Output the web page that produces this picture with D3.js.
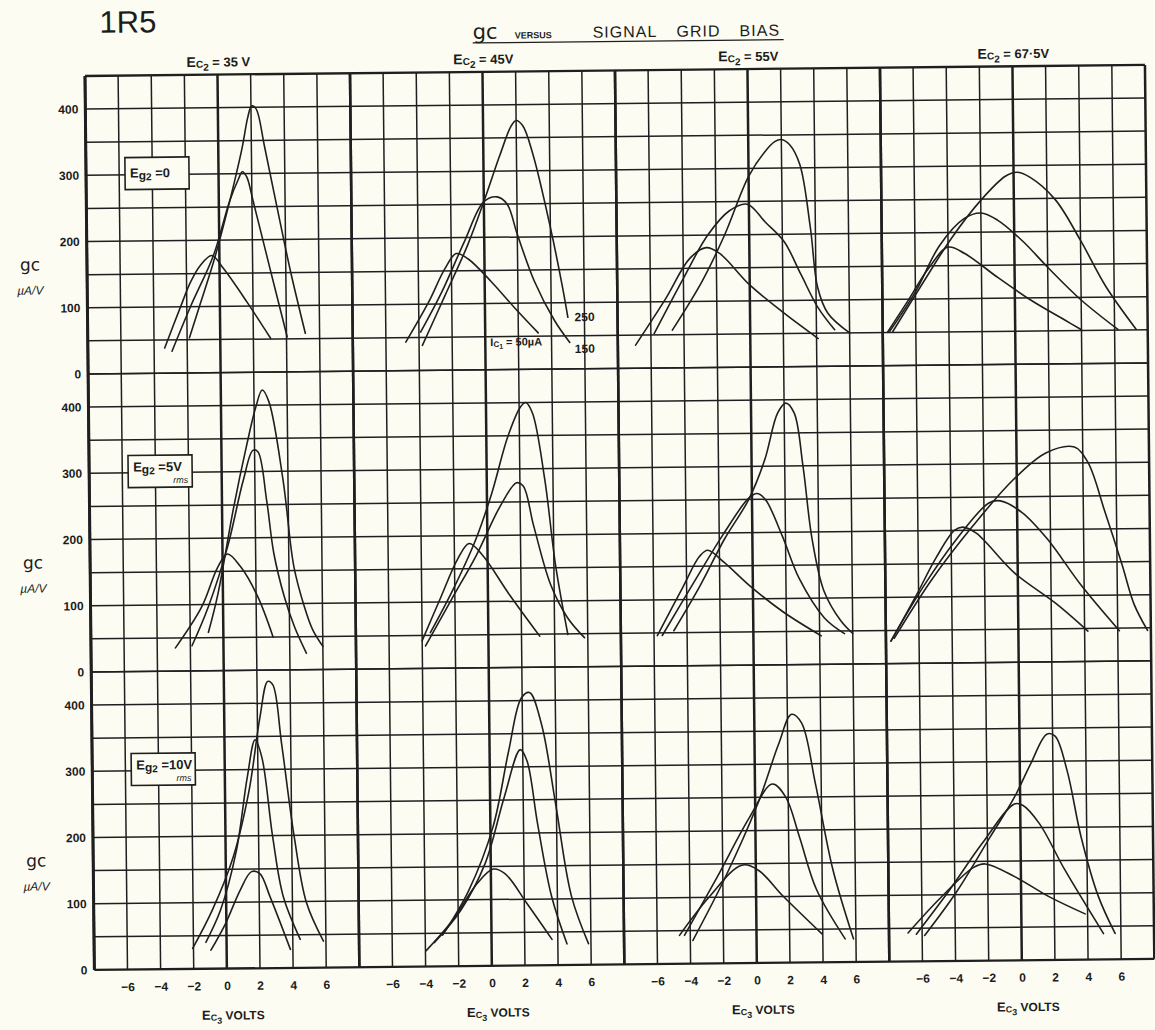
<!DOCTYPE html>
<html><head><meta charset="utf-8">
<script src="https://cdn.jsdelivr.net/npm/d3@7"></script>
<style>
body{margin:0;background:#fcfcf3;}
svg{display:block;}
text{font-family:"Liberation Sans","DejaVu Sans",sans-serif;fill:#1c1c1c;}
.b{font-weight:bold;}
</style>
</head><body>
<svg id="c" width="1155" height="1030"></svg>
<script>
// ---------- labels ----------
const tubeName = "1R5";
const ec2Values = ["35 V", "45V", "55V", "67·5V"];
const eg2Values = ["0", "5V", "10V"];
const eg2Rms = ["", "rms", "rms"];
const xTicks = [-6, -4, -2, 0, 2, 4, 6];
const yTicks = [0, 100, 200, 300, 400];
const ic1Labels = ["250", "150", "Ic1 = 50µA"];

// ---------- data: [Ec3 volts, gc µA/V] ; each panel = [Ic1 50µA, 150µA, 250µA] ----------
// Eg2 = 0
const eg0_ec35 = [
  [[-3.36,38],[-2.36,101],[-1.76,137],[-1.16,162],[-0.46,177],[0.24,157],[1.64,106],[3.04,51]],
  [[-2.92,33],[-1.76,101],[-0.36,177],[0.64,258],[1.2,292],[1.44,303],[1.7,295],[2.04,262],[3.04,157],[4.04,53]],
  [[-1.86,53],[-1.16,106],[-0.36,167],[0.44,238],[1.44,339],[1.8,385],[2.04,402],[2.3,398],[2.8,340],[3.5,250],[4.3,150],[5.14,58]]
];
const eg0_ec45 = [
  [[-4.8,43],[-3.4,103],[-2.4,153],[-1.7,176],[-1.0,168],[0.4,133],[1.8,93],[3.2,55]],
  [[-3.9,58],[-2.6,118],[-1.2,194],[0,254],[0.8,261],[1.4,250],[2.0,204],[3.0,133],[4.2,73],[5.1,40]],
  [[-3.8,38],[-2.4,113],[-1.0,189],[0,254],[1.0,324],[1.7,368],[2.0,376],[2.4,368],[3.0,324],[4.0,214],[4.7,123],[5.0,78]]
];
const eg0_ec55 = [
  [[-6.93,35],[-5.1,104],[-3.6,165],[-2.6,181],[-1.8,172],[0,124],[2,82],[4.1,42]],
  [[-5.8,52],[-4,135],[-2.5,200],[-1.2,236],[-0.1,246],[1,218],[2.1,189],[3.1,139],[4.1,89],[5.1,55]],
  [[-4.7,57],[-2.9,129],[-1.5,199],[0,288],[1,325],[1.6,340],[2,343],[2.5,335],[3.1,305],[3.7,209],[4.1,119],[4.7,80],[6,50]]
];
const eg0_ec675 = [
  [[-7.7,51],[-6.5,96],[-5.2,146],[-4,178],[-3,168],[-1,131],[1,96],[3,66],[4.0,51]],
  [[-7.6,51],[-6,111],[-4.5,181],[-3,221],[-2,229],[-1,218],[0.5,186],[2,146],[4,96],[6.2,51]],
  [[-7.4,51],[-5.5,126],[-3.8,191],[-2,248],[-0.5,284],[0.2,290],[1,282],[2.5,248],[4,186],[5.5,116],[7.3,51]]
];
// Eg2 = 5V rms
const eg5_ec35 = [
  [[-2.9,35],[-1.3,96],[-0.3,156],[0.3,176],[1.1,156],[2.1,111],[3.0,50]],
  [[-1.9,38],[-0.9,96],[0.3,186],[1.3,287],[1.9,332],[2.2,330],[2.7,256],[3.1,176],[3.7,111],[4.3,65],[5.0,25]],
  [[-0.9,58],[-0.3,116],[0.7,246],[1.5,337],[2.1,397],[2.5,423],[2.9,405],[3.7,287],[4.3,156],[4.9,96],[5.4,60],[6.0,35]]
];
const eg5_ec45 = [
  [[-4.0,42],[-2.8,110],[-1.8,165],[-1.1,188],[-0.3,170],[1.3,110],[3.1,47]],
  [[-3.8,34],[-2.2,104],[-0.7,169],[0.8,244],[1.8,279],[2.2,274],[2.8,214],[3.8,124],[4.8,74],[5.8,44]],
  [[-3.5,54],[-2.2,114],[-0.7,194],[0.3,264],[1.3,349],[2.1,394],[2.4,400],[2.8,384],[3.5,284],[4.1,154],[4.8,49]]
];
const eg5_ec55 = [
  [[-5.8,46],[-4.2,120],[-3.2,165],[-2.7,174],[-1.7,155],[-0.2,120],[1.8,80],[4.1,43]],
  [[-5.5,46],[-3.7,120],[-1.7,200],[-0.2,252],[0.3,259],[0.8,250],[1.8,195],[2.8,130],[4.3,70],[5.5,46]],
  [[-4.8,53],[-3.2,120],[-1.7,190],[-0.2,250],[0.8,310],[1.6,380],[2.1,395],[2.6,380],[3.1,300],[3.6,190],[4.3,110],[5.3,65],[6.0,46]]
];
const eg5_ec675 = [
  [[-7.7,34],[-6.2,100],[-4.9,160],[-3.8,200],[-3.3,205],[-2.5,196],[-0.2,135],[2.3,88],[4.2,46]],
  [[-7.7,34],[-5.7,116],[-3.7,186],[-1.7,241],[-1.0,244],[0.3,226],[1.8,186],[3.8,116],[6.1,46]],
  [[-7.5,38],[-5.2,126],[-2.7,206],[-0.2,276],[1.8,316],[3.5,324],[4.3,301],[5.3,226],[6.3,146],[7.0,86],[7.8,46]]
];
// Eg2 = 10V rms
const eg10_ec35 = [
  [[-0.95,28],[-0.05,68],[0.85,118],[1.55,146],[2.05,143],[2.65,108],[3.85,28]],
  [[-1.25,40],[-0.35,88],[0.65,178],[1.35,288],[1.85,345],[2.25,318],[2.85,198],[3.45,108],[4.45,43]],
  [[-2.05,31],[-0.85,88],[0.45,168],[1.45,268],[2.15,378],[2.65,433],[2.95,428],[3.45,338],[4.15,198],[4.85,98],[5.85,40]]
];
const eg10_ec45 = [
  [[-3.95,24],[-2.35,69],[-0.85,124],[0.15,146],[0.85,139],[2.15,94],[3.65,39]],
  [[-3.45,36],[-1.85,84],[-0.35,154],[0.85,254],[1.85,326],[2.25,309],[2.85,214],[3.65,104],[4.55,32]],
  [[-2.95,47],[-1.35,114],[0.15,209],[1.15,324],[1.95,404],[2.45,412],[3.15,364],[3.95,244],[4.85,104],[5.85,32]]
];
const eg10_ec55 = [
  [[-4.65,43],[-2.85,100],[-0.85,148],[0.15,140],[1.65,100],[3.95,43]],
  [[-4.35,43],[-2.35,130],[-0.35,220],[1.05,270],[1.85,250],[2.65,190],[3.65,110],[5.35,35]],
  [[-3.85,35],[-1.85,130],[0.15,240],[1.45,330],[2.25,375],[2.85,362],[3.65,270],[4.65,140],[5.85,35]]
];
const eg10_ec675 = [
  [[-6.85,43],[-4.85,96],[-2.85,141],[-2.15,146],[-0.35,126],[1.65,96],[3.85,69]],
  [[-6.35,41],[-4.35,106],[-2.35,176],[-0.35,236],[0.15,234],[1.15,206],[2.65,136],[4.95,39]],
  [[-5.85,39],[-3.85,106],[-1.85,186],[-0.35,246],[0.65,296],[1.65,341],[2.15,338],[2.85,286],[3.65,186],[4.65,96],[5.65,39]]
];
const panelData = [
  [eg0_ec35, eg0_ec45, eg0_ec55, eg0_ec675],
  [eg5_ec35, eg5_ec45, eg5_ec55, eg5_ec675],
  [eg10_ec35, eg10_ec45, eg10_ec55, eg10_ec675]
];

// ---------- layout ----------
const L = 85, T = 76, PW = 265, RH = 298, W = 4 * PW, H = 3 * RH;
const ink = "#1f1f1f";
const svg = d3.select("#c");
svg.append("rect").attr("width", 1155).attr("height", 1030).attr("fill", "#fcfcf3");
const g = svg.append("g").attr("transform", `rotate(-0.6 ${L} ${T})`);

const xs = d3.range(4).map(p => d3.scaleLinear().domain([-8, 8]).range([L + p * PW, L + (p + 1) * PW]));
const ys = d3.range(3).map(r => d3.scaleLinear().domain([0, 450]).range([T + (r + 1) * RH, T + r * RH]));

// grid
const grid = g.append("g");
xs.forEach((x, p) => {
  d3.range(-8, 9, 2).forEach(v => {
    const thick = (v === 0 || v === -8 || v === 8);
    grid.append("line").attr("x1", x(v)).attr("x2", x(v)).attr("y1", T).attr("y2", T + H)
      .attr("stroke", ink).attr("stroke-width", thick ? 2.5 : 1.5);
  });
});
ys.forEach((y, r) => {
  d3.range(0, 451, 50).forEach(v => {
    const edge = (r === 0 && v === 450) || (r === 2 && v === 0);
    grid.append("line").attr("x1", L).attr("x2", L + W).attr("y1", y(v)).attr("y2", y(v))
      .attr("stroke", ink).attr("stroke-width", edge ? 2.3 : 1.5);
  });
});
grid.append("line").attr("x1", L).attr("x2", L).attr("y1", T).attr("y2", T + H).attr("stroke", ink).attr("stroke-width", 3);

// y axes (labels only)
ys.forEach((y, r) => {
  const ax = g.append("g").attr("transform", `translate(${L - 7},0)`)
    .call(d3.axisLeft(y).tickValues(yTicks).tickSize(0).tickPadding(0).tickFormat(d3.format("d")));
  ax.select(".domain").remove();
  ax.selectAll("text").attr("class", "b").style("font-size", "12px").style("font-family", "'Liberation Sans',sans-serif").attr("fill", ink);
  const yz = y(0);
  g.append("text").attr("x", 28).attr("y", yz - 104).attr("text-anchor", "middle")
    .style("font-size", "17px").style("font-family", "'DejaVu Sans',sans-serif").text("gc");
  g.append("text").attr("x", 28).attr("y", yz - 80).attr("text-anchor", "middle")
    .style("font-size", "12px").style("font-style", "italic").text("µA/V");
});

// x axes at bottom (labels only)
xs.forEach((x, p) => {
  const ax = g.append("g").attr("transform", `translate(0,${T + H + 13})`)
    .call(d3.axisBottom(x).tickValues(xTicks).tickSize(0).tickPadding(0).tickFormat(d => d < 0 ? "−" + Math.abs(d) : d));
  ax.select(".domain").remove();
  ax.selectAll("text").attr("class", "b").style("font-size", "12px").style("font-family", "'Liberation Sans',sans-serif").attr("fill", ink);
  const t = g.append("text").attr("x", x(0) + 6).attr("y", T + H + 51).attr("text-anchor", "middle").attr("class", "b");
  t.append("tspan").text("E").style("font-size", "13px");
  t.append("tspan").text("C").style("font-size", "9px").attr("dy", 1);
  t.append("tspan").text("3").style("font-size", "9px").attr("dy", 3);
  t.append("tspan").text(" VOLTS").style("font-size", "12px").attr("dy", -4);
});

// Ec2 headers
xs.forEach((x, p) => {
  const t = g.append("text").attr("x", x(0) + 1).attr("y", T - 8).attr("text-anchor", "middle").attr("class", "b");
  t.append("tspan").text("E").style("font-size", "14px");
  t.append("tspan").text("C").style("font-size", "10px").attr("dy", 1);
  t.append("tspan").text("2").style("font-size", "10px").attr("dy", 3);
  t.append("tspan").text(" = " + ec2Values[p]).style("font-size", "13px").attr("dy", -4);
});

// title
g.append("text").attr("x", 100).attr("y", 33).style("font-size", "31px").text(tubeName);
const tt = g.append("text").attr("x", 473).attr("y", 43);
tt.append("tspan").text("gc").style("font-size", "21px").style("font-family", "'DejaVu Sans',sans-serif");
tt.append("tspan").attr("x", 515).text("VERSUS").attr("class", "b").style("font-size", "9px");
tt.append("tspan").attr("x", 593).text("SIGNAL").style("font-size", "16px").style("letter-spacing", "1px");
tt.append("tspan").attr("x", 677).text("GRID").style("font-size", "16px").style("letter-spacing", "1px");
tt.append("tspan").attr("x", 740).text("BIAS").style("font-size", "16px").style("letter-spacing", "1px");
g.append("line").attr("x1", 473).attr("x2", 784).attr("y1", 47).attr("y2", 47).attr("stroke", ink).attr("stroke-width", 1.3);

// Eg2 boxes in first panel of each row
ys.forEach((y, r) => {
  const bx = 124, bw = 64, by = y(0) - 216, bh = 32;
  g.append("rect").attr("x", bx).attr("y", by).attr("width", bw).attr("height", bh)
    .attr("fill", "#fcfcf3").attr("stroke", ink).attr("stroke-width", 1.6);
  const t = g.append("text").attr("x", bx + 5).attr("y", by + (eg2Rms[r] ? 16 : 20)).attr("class", "b");
  t.append("tspan").text("E").style("font-size", "13px");
  t.append("tspan").text("g").style("font-size", "12px").attr("dy", 2);
  t.append("tspan").text("2").style("font-size", "10px").attr("dy", 1);
  t.append("tspan").text(" =" + eg2Values[r]).style("font-size", "13px").attr("dy", -3);
  if (eg2Rms[r]) g.append("text").attr("x", bx + bw - 4).attr("y", by + 28).attr("text-anchor", "end")
    .style("font-size", "9px").style("font-style", "italic").text(eg2Rms[r]);
});

// curves
panelData.forEach((row, r) => {
  row.forEach((curves, p) => {
    const line = d3.line().x(d => xs[p](d[0])).y(d => ys[r](d[1])).curve(d3.curveCatmullRom.alpha(0.5));
    curves.forEach(c => {
      g.append("path").attr("d", line(c)).attr("fill", "none").attr("stroke", ink)
        .attr("stroke-width", 1.6).attr("stroke-linejoin", "round").attr("stroke-linecap", "round");
    });
  });
});

// Ic1 annotations (row 1, Ec2 = 45V)
const ax2 = xs[1], ay1 = ys[0];
g.append("text").attr("x", ax2(5.4)).attr("y", ay1(72)).attr("class", "b").style("font-size", "12px").text(ic1Labels[0]);
g.append("text").attr("x", ax2(5.4)).attr("y", ay1(24)).attr("class", "b").style("font-size", "12px").text(ic1Labels[1]);
const ta = g.append("text").attr("x", ax2(0.3)).attr("y", ay1(36)).attr("class", "b").style("font-size", "11px");
ta.append("tspan").text("I");
ta.append("tspan").text("C").style("font-size", "8px").attr("dy", 1);
ta.append("tspan").text("1").style("font-size", "7px").attr("dy", 2);
ta.append("tspan").text(" = 50µA").attr("dy", -3);
</script>
</body></html>
